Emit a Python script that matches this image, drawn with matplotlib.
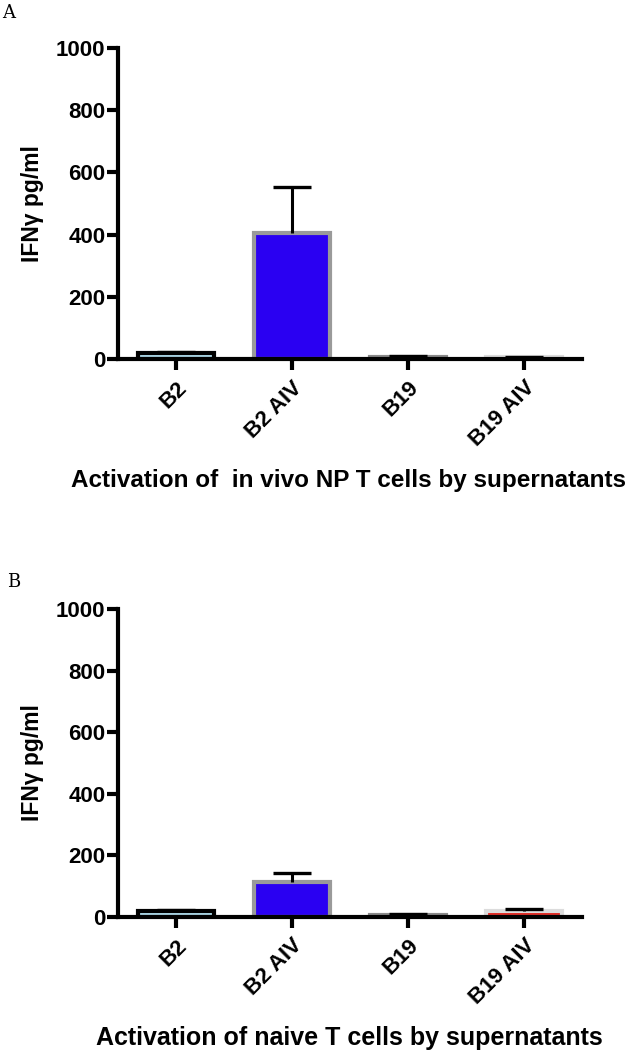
import numpy as np
import matplotlib.pyplot as plt

plt.rcParams['font.family'] = ['Liberation Sans', 'DejaVu Sans']

groups = ["B2", "B2 AIV", "B19", "B19 AIV"]

# panel A: in vivo NP T cells
vals_a = [18, 405, 8, 5]
err_a = [3, 147, 3, 3]
# panel B: naive T cells
vals_b = [19, 115, 7, 18]
err_b = [3, 28, 3, 9]

fills = ["#b4e2f2", "#2a00f2", "#5a5a5a", "#e0201a"]
edges = ["#000000", "#9a9a9a", "#8a8a8a", "#dcdcdc"]

xlabels = ["Activation of  in vivo NP T cells by supernatants",
           "Activation of naive T cells by supernatants"]

fig = plt.figure(figsize=(6.3, 10.51), dpi=100)

# [left, bottom, width, height] in figure fractions
boxes = [[0.187, 0.6584, 0.737, 0.2959],
         [0.187, 0.1275, 0.737, 0.2930]]
# x label baseline spot (figure coords) and size
xlab_pos = [(0.553, 0.5366), (0.554, 0.006)]
xlab_size = [17.5, 18]

x = np.arange(len(groups))

for i, (vals, err) in enumerate([(vals_a, err_a), (vals_b, err_b)]):
    ax = fig.add_axes(boxes[i])
    ax.bar(x, vals, width=0.66, color=fills, edgecolor=edges, linewidth=3, zorder=2)
    eb = ax.errorbar(x, vals, yerr=[np.zeros(len(err)), err], fmt="none",
                     ecolor="black", elinewidth=2.2, capsize=14, capthick=2.4, zorder=3)
    eb[1][0].set_visible(False)  # no cap at the bar top

    ax.set_xlim(-0.5, 3.5)
    ax.set_ylim(0, 1000)
    ax.set_yticks([0, 200, 400, 600, 800, 1000])
    ax.set_xticks(x)
    ax.set_xticklabels(groups, rotation=45, ha="right", va="top",
                       rotation_mode="anchor", fontsize=16, fontweight="bold")
    for lab in ax.get_yticklabels():
        lab.set_fontsize(16)
        lab.set_fontweight("bold")
    ax.tick_params(axis="both", direction="out", length=8, width=3, pad=1)
    ax.tick_params(axis="x", pad=5)
    for s in ["top", "right"]:
        ax.spines[s].set_visible(False)
    for s in ["left", "bottom"]:
        ax.spines[s].set_linewidth(3)
    ax.set_ylabel("IFNγ pg/ml", fontsize=16.5, fontweight="bold")
    ax.yaxis.set_label_coords(-0.16, 0.5)
    xl = ax.set_xlabel(xlabels[i], fontsize=xlab_size[i], fontweight="bold")
    xl.set_va("baseline")
    ax.xaxis.set_label_coords(*xlab_pos[i], transform=fig.transFigure)

fig.text(0.003, 0.988, "A", family="DejaVu Serif", fontsize=13, va="center")
fig.text(0.011, 0.446, "B", family="DejaVu Serif", fontsize=13, va="center")

fig.savefig("out.png", dpi=100)
